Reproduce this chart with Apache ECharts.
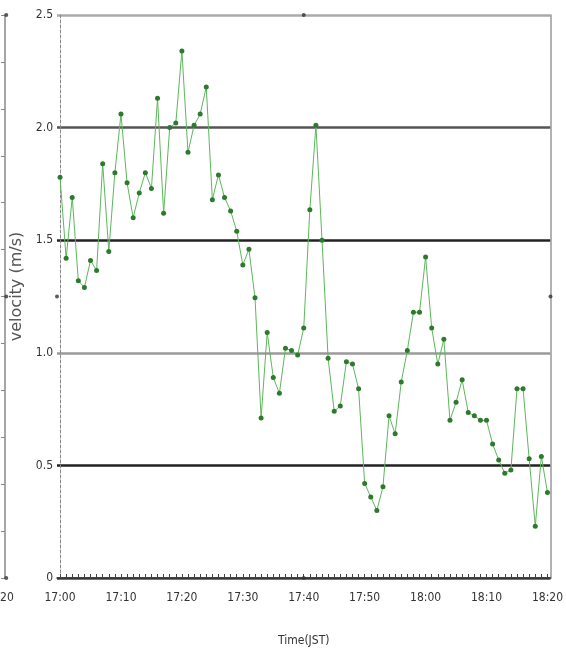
<!DOCTYPE html>
<html>
<head>
<meta charset="utf-8">
<style>
html,body{margin:0;padding:0;background:#fff;}
#chart{width:566px;height:657px;}
</style>
<script src="https://cdn.jsdelivr.net/npm/echarts@6/dist/echarts.min.js"></script>
</head>
<body>
<div id="chart"></div>
<script>
// minutes after 17:00
var minutes = [0,1,2,3,4,5,6,7,8,9,10,11,12,13,14,15,16,17,18,19,20,21,22,23,24,25,26,27,28,29,30,31,32,33,34,35,36,37,38,39,40,41,42,43,44,45,46,47,48,49,50,51,52,53,54,55,56,57,58,59,60,61,62,63,64,65,66,67,68,69,70,71,72,73,74,75,76,77,78,79,80];
var velocity = [1.78,1.42,1.69,1.32,1.29,1.41,1.365,1.84,1.45,1.80,2.06,1.755,1.60,1.71,1.80,1.73,2.13,1.62,2.00,2.02,2.34,1.89,2.01,2.06,2.18,1.68,1.79,1.69,1.63,1.54,1.39,1.46,1.245,0.71,1.09,0.89,0.82,1.02,1.01,0.99,1.11,1.635,2.01,1.50,0.976,0.74,0.764,0.96,0.95,0.84,0.42,0.36,0.30,0.405,0.72,0.64,0.87,1.01,1.18,1.18,1.425,1.11,0.95,1.06,0.70,0.78,0.88,0.735,0.72,0.70,0.70,0.595,0.524,0.465,0.48,0.84,0.84,0.53,0.23,0.54,0.38];
var tickMinutes = [0,10,20,30,40,50,60,70,80];
var tickLabels = ['17:00','17:10','17:20','17:30','17:40','17:50','18:00','18:10','18:20'];
var yTickLabels = ['0','0.5','1.0','1.5','2.0','2.5'];

var data = minutes.map(function(m,i){return [m, velocity[i]];});
var chart = echarts.init(document.getElementById('chart'));
var narrow = '"Liberation Sans Narrow", "DejaVu Sans Condensed", sans-serif';
chart.setOption({
  animation:false,
  backgroundColor:'#fff',
  grid:[
    {left:57, right:12, top:15, bottom:79},
    {left:0, width:5, top:15, bottom:79}
  ],
  xAxis:[
    {type:'value', gridIndex:0, min:-0.5, max:80.5,
     name:'Time(JST)', nameLocation:'middle', nameGap:57,
     nameTextStyle:{fontFamily:narrow, fontSize:12, color:'#333'},
     axisLine:{show:true, onZero:false, lineStyle:{color:'#333', width:1.5}},
     axisTick:{show:true, inside:true, length:4, customValues:minutes, lineStyle:{color:'#444'}},
     axisLabel:{customValues:tickMinutes, margin:14, fontFamily:narrow, fontSize:12, color:'#333',
       formatter:function(v){var i=tickMinutes.indexOf(Math.round(v));return i>=0?tickLabels[i]:'';}},
     splitLine:{show:false}},
    {type:'value', gridIndex:1, min:0, max:80,
     axisLine:{show:false}, axisTick:{show:false}, splitLine:{show:false},
     axisLabel:{customValues:[80], margin:14, fontFamily:narrow, fontSize:12, color:'#333',
       padding:[0,16,0,0],
       formatter:function(){return tickLabels[tickLabels.length-1];}}}
  ],
  yAxis:[
    {type:'value', gridIndex:0, min:0, max:2.5, interval:0.5,
     name:'velocity (m/s)', nameLocation:'middle', nameGap:28, nameRotate:90,
     nameTextStyle:{fontFamily:'DejaVu Sans', fontSize:16, color:'#555', padding:[0,0,0,20]},
     axisLine:{show:true, lineStyle:{color:'#888', width:1, type:[3,2]}},
     axisTick:{show:false},
     axisLabel:{margin:4, fontFamily:narrow, fontSize:12, color:'#333',
       formatter:function(v){return yTickLabels[Math.round(v/0.5)];}},
     splitLine:{show:true, lineStyle:{color:['#444','#222','#9a9a9a','#222','#555','#aaa'], width:2.5}}},
    {type:'value', gridIndex:0, min:0, max:2.5, interval:0.5, position:'right',
     axisLine:{show:true, lineStyle:{color:'#999', width:1.5}},
     axisTick:{show:false}, axisLabel:{show:false}, splitLine:{show:false}},
    {type:'value', gridIndex:1, min:0, max:12, interval:1, position:'right',
     axisLine:{show:true, lineStyle:{color:'#888', width:1.5}},
     axisTick:{show:true, inside:true, length:4, lineStyle:{color:'#888'}},
     axisLabel:{show:false}, splitLine:{show:false}}
  ],
  series:[
    {type:'line', xAxisIndex:0, yAxisIndex:0, data:data,
     symbol:'circle', symbolSize:5, showAllSymbol:true,
     lineStyle:{color:'#5cb85c', width:1},
     itemStyle:{color:'#2d7a2d'}},
    {type:'scatter', xAxisIndex:0, yAxisIndex:0, clip:false, symbolSize:4,
     itemStyle:{color:'#333'},
     data:[[40,0],[40,2.5],[-0.5,1.25],[80.5,1.25]]},
    {type:'scatter', xAxisIndex:1, yAxisIndex:2, clip:false, symbolSize:4,
     itemStyle:{color:'#333'},
     data:[[80,0],[80,12],[80,6]]}
  ]
});
</script>
</body>
</html>
